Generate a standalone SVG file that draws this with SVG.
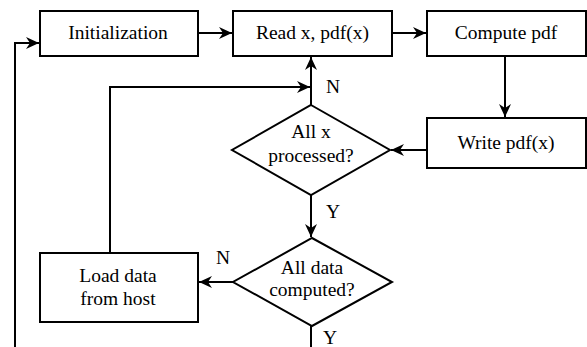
<svg xmlns="http://www.w3.org/2000/svg" width="587" height="347" viewBox="0 0 587 347">
<style>
.box{fill:#fff;stroke:#000;stroke-width:2}
.t{font-family:"Liberation Serif","Times New Roman",serif;font-size:19.5px;fill:#000;text-anchor:middle}
.c{fill:none;stroke:#000;stroke-width:2}
</style>
<defs>
<marker id="ah" markerUnits="userSpaceOnUse" markerWidth="14" markerHeight="12" viewBox="0 0 14 12" refX="13" refY="6" orient="auto">
<path d="M0,0 L13,6 L0,12 L4,6 Z" fill="#000"/>
</marker>
</defs>
<rect width="587" height="347" fill="#fff"/>
<g id="connectors">
<path class="c" d="M198,33 H232" marker-end="url(#ah)"/>
<path class="c" d="M392,33 H426" marker-end="url(#ah)"/>
<path class="c" d="M505,56 V117" marker-end="url(#ah)"/>
<path class="c" d="M427,150 H391" marker-end="url(#ah)"/>
<path class="c" d="M311,105 V57" marker-end="url(#ah)"/>
<path class="c" d="M110,253 V87 H310" marker-end="url(#ah)"/>
<path class="c" d="M311,195 V237" marker-end="url(#ah)"/>
<path class="c" d="M233,282 H199" marker-end="url(#ah)"/>
<path class="c" d="M311,326 V347"/>
<path class="c" d="M15,347 V43 H39" marker-end="url(#ah)"/>
<text class="t" x="333" y="93">N</text>
<text class="t" x="333" y="218">Y</text>
<text class="t" x="223" y="264">N</text>
<text class="t" x="330" y="344" font-size="18">Y</text>
</g>
<g id="init">
<rect class="box" x="40" y="11" width="158" height="45"/>
<text class="t" x="118" y="39">Initialization</text>
</g>
<g id="read">
<rect class="box" x="233" y="11" width="159" height="45"/>
<text class="t" x="312.5" y="39">Read x, pdf(x)</text>
</g>
<g id="compute">
<rect class="box" x="427" y="11" width="159" height="45"/>
<text class="t" x="506" y="39">Compute pdf</text>
</g>
<g id="write">
<rect class="box" x="427" y="118" width="159" height="50"/>
<text class="t" x="506" y="149">Write pdf(x)</text>
</g>
<g id="allx">
<polygon class="box" points="311,105 390,150 311,195 232,150"/>
<text class="t" x="311" y="138">All x</text>
<text class="t" x="311" y="162">processed?</text>
</g>
<g id="alldata">
<polygon class="box" points="312,238 392,282 312,326 233,282"/>
<text class="t" x="312" y="274">All data</text>
<text class="t" x="312" y="296">computed?</text>
</g>
<g id="load">
<rect class="box" x="40" y="253" width="158" height="69"/>
<text class="t" x="118" y="282">Load data</text>
<text class="t" x="118" y="305">from host</text>
</g>
</svg>
